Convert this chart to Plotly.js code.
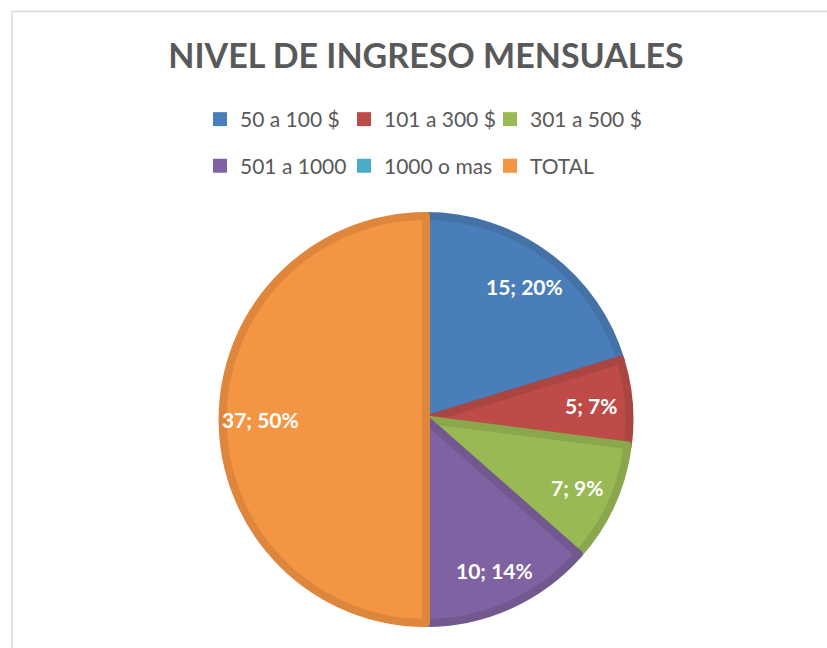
<!DOCTYPE html>
<html>
<head>
<meta charset="utf-8">
<script src="https://cdn.plot.ly/plotly-3.0.1.min.js"></script>
<style>html,body{margin:0;padding:0;background:#fff;}#chart{width:827px;height:648px;}</style>
</head>
<body>
<div id="chart"></div>
<script>
// ---- data ----
const categories = ['50 a 100 $', '101 a 300 $', '301 a 500 $', '501 a 1000', '1000 o mas', 'TOTAL'];
const values = [15, 5, 7, 10, 0, 37];
const fillColors = ['#4A7EBB', '#BE4B48', '#98B954', '#7E62A1', '#4AACC5', '#F49544'];
const edgeColors = ['#4471A6', '#AA4542', '#8AA74D', '#71588F', '#3F9AB2', '#DF863D'];

// ---- layout constants ----
const W = 827, H = 648;
const CX = 426, CY = 419.5, R = 207.5;   // pie centre and outer radius (px)
const EDGE = 8;                           // bevel-like edge width
const rFill = R - EDGE / 2;
const FONT = 'Lato, "Open Sans", sans-serif';
const TXT = '#595959';
const legendCols = [200, 344, 490];      // px, left of each legend column
const legendRows = [119.5, 166];          // px, centre of each legend row

const total = values.reduce((a, b) => a + b, 0);

const pie = {
  type: 'pie',
  values: values,
  labels: categories,
  sort: false,
  direction: 'clockwise',
  rotation: 0,
  textinfo: 'none',
  hoverinfo: 'label+value+percent',
  showlegend: false,
  marker: {colors: fillColors, line: {color: edgeColors, width: EDGE}},
  domain: {
    x: [(CX - rFill) / W, (CX + rFill) / W],
    y: [1 - (CY + rFill) / H, 1 - (CY - rFill) / H]
  }
};

const legendBase = {
  orientation: 'h', xanchor: 'left', yanchor: 'middle', itemwidth: 30,
  bgcolor: 'rgba(0,0,0,0)', borderwidth: 0,
  font: {family: FONT, size: 21, color: TXT},
  itemclick: false, itemdoubleclick: false
};

// one legend per entry so the entries sit on a 3-column grid
const legendTraces = [];
const legends = {};
categories.forEach((c, i) => {
  const key = i === 0 ? 'legend' : 'legend' + (i + 1);
  legendTraces.push({
    type: 'scatter', mode: 'markers', x: [null], y: [null],
    name: c, hoverinfo: 'skip',
    marker: {symbol: 'square', size: 14, color: fillColors[i]},
    legend: key, showlegend: true
  });
  legends[key] = Object.assign({}, legendBase, {
    x: legendCols[i % 3] / W,
    y: 1 - legendRows[Math.floor(i / 3)] / H
  });
});

// data labels "value; pct%" placed along each slice's mid angle
const annotations = [];
let cum = 0;
values.forEach((v, i) => {
  if (v > 0) {
    const mid = (cum + v / 2) / total * 2 * Math.PI;
    const lr = 0.8 * R;
    const px = CX + lr * Math.sin(mid);
    const py = CY - lr * Math.cos(mid);
    annotations.push({
      xref: 'paper', yref: 'paper', x: px / W, y: 1 - py / H,
      xanchor: 'center', yanchor: 'middle', showarrow: false,
      text: v + '; ' + Math.round(v / total * 100) + '%',
      font: {family: FONT, size: 21, color: '#FFFFFF', weight: 'bold'}
    });
  }
  cum += v;
});

const layout = Object.assign({
  width: W, height: H,
  margin: {l: 0, r: 0, t: 0, b: 0},
  paper_bgcolor: '#FFFFFF', plot_bgcolor: 'rgba(0,0,0,0)',
  title: {
    text: 'NIVEL DE INGRESO MENSUALES',
    font: {family: FONT, size: 34, color: TXT, weight: 'bold'},
    x: 426 / W, xanchor: 'center', xref: 'container',
    y: 1 - 56 / H, yanchor: 'middle', yref: 'container'
  },
  xaxis: {visible: false, range: [0, 1]},
  yaxis: {visible: false, range: [0, 1]},
  annotations: annotations,
  shapes: [{
    type: 'rect', xref: 'paper', yref: 'paper',
    x0: 12 / W, x1: 1.02, y0: -0.02, y1: 1 - 11.5 / H,
    line: {color: '#D9D9D9', width: 1.5}, fillcolor: 'rgba(0,0,0,0)', layer: 'below'
  }],
  showlegend: true
}, legends);

Plotly.newPlot('chart', [pie].concat(legendTraces), layout, {displayModeBar: false, staticPlot: true});
</script>
</body>
</html>
